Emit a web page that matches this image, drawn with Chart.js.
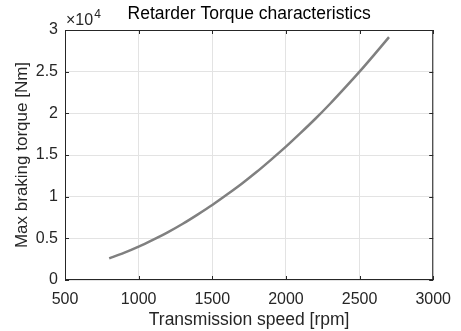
<!DOCTYPE html>
<html>
<head>
<meta charset="utf-8">
<script src="https://cdn.jsdelivr.net/npm/chart.js@4/dist/chart.umd.min.js"></script>
<style>
html,body{margin:0;padding:0;background:#fff;}
#wrap{width:461px;height:331px;}
</style>
</head>
<body>
<div id="wrap"><canvas id="c" width="461" height="331"></canvas></div>
<script>
// transmission speed [rpm]
var speed = [800, 900, 1000, 1100, 1200, 1300, 1400, 1500, 1600, 1700, 1800, 1900, 2000, 2100, 2200, 2300, 2400, 2500, 2600, 2700];
// max braking torque [Nm]
var torque = [2600, 3250, 4000, 4850, 5750, 6750, 7850, 9000, 10250, 11550, 12950, 14450, 16000, 17650, 19350, 21150, 23050, 25000, 27050, 29150];
var xTicks = [500, 1000, 1500, 2000, 2500, 3000];
var yTicks = [0, 5000, 10000, 15000, 20000, 25000, 30000];

var pts = speed.map(function(s, i){ return {x: s, y: torque[i]}; });
var fontFam = "'Liberation Sans', Arial, sans-serif";
var axisCol = '#262626';

// matlab style box, inward ticks and the x10^4 exponent
var boxPlugin = {
    id: 'box',
    afterDraw: function(chart){
        var ctx = chart.ctx, a = chart.chartArea;
        var xs = chart.scales.x, ys = chart.scales.y;
        ctx.save();
        ctx.strokeStyle = axisCol;
        ctx.lineWidth = 1;
        ctx.strokeRect(a.left + 0.5, a.top + 0.5, a.right - a.left - 1, a.bottom - a.top - 1);
        ctx.beginPath();
        xTicks.forEach(function(v){
            var px = Math.round(xs.getPixelForValue(v)) + 0.5;
            ctx.moveTo(px, a.bottom); ctx.lineTo(px, a.bottom - 4);
            ctx.moveTo(px, a.top); ctx.lineTo(px, a.top + 4);
        });
        yTicks.forEach(function(v){
            var py = Math.round(ys.getPixelForValue(v)) + 0.5;
            ctx.moveTo(a.left, py); ctx.lineTo(a.left + 4, py);
            ctx.moveTo(a.right, py); ctx.lineTo(a.right - 4, py);
        });
        ctx.stroke();
        ctx.fillStyle = axisCol;
        ctx.textBaseline = 'alphabetic';
        ctx.textAlign = 'left';
        ctx.font = '16px ' + fontFam;
        ctx.fillText('\u00d710', a.left + 1, a.top - 5);
        var w = ctx.measureText('\u00d710').width;
        ctx.font = '12px ' + fontFam;
        ctx.fillText('4', a.left + 1 + w + 1, a.top - 12);
        ctx.restore();
    }
};

new Chart(document.getElementById('c').getContext('2d'), {
    type: 'line',
    data: {
        datasets: [{
            data: pts,
            borderColor: '#808080',
            borderWidth: 2.5,
            pointRadius: 0,
            fill: false,
            tension: 0.3
        }]
    },
    options: {
        responsive: false,
        animation: false,
        layout: {padding: {top: 0, right: 23, left: 0, bottom: 0}},
        plugins: {
            legend: {display: false},
            tooltip: {enabled: false},
            title: {
                display: true,
                fullSize: false,
                text: 'Retarder Torque characteristics',
                color: '#000',
                font: {family: fontFam, size: 17.5, weight: 'normal'},
                padding: {top: 4, bottom: 5}
            }
        },
        scales: {
            x: {
                type: 'linear',
                min: 500, max: 3000,
                afterBuildTicks: function(s){ s.ticks = xTicks.map(function(v){ return {value: v}; }); },
                afterFit: function(s){ s.height = 51; },
                grid: {color: '#e3e3e3', drawTicks: false},
                border: {display: false},
                ticks: {color: axisCol, padding: 10, maxRotation: 0, font: {family: fontFam, size: 16},
                    callback: function(v){ return String(v); }},
                title: {display: true, text: 'Transmission speed [rpm]', color: axisCol, padding: {top: 1, bottom: 0}, font: {family: fontFam, size: 17.5}}
            },
            y: {
                type: 'linear',
                min: 0, max: 30000,
                afterBuildTicks: function(s){ s.ticks = yTicks.map(function(v){ return {value: v}; }); },
                afterFit: function(s){ s.width = 65; },
                grid: {color: '#e3e3e3', drawTicks: false},
                border: {display: false},
                ticks: {color: axisCol, padding: 7, font: {family: fontFam, size: 16},
                    callback: function(v){ return String(v / 10000); }},
                title: {display: true, text: 'Max braking torque [Nm]', color: axisCol, padding: {top: 12, bottom: 4}, font: {family: fontFam, size: 17}}
            }
        }
    },
    plugins: [boxPlugin]
});
</script>
</body>
</html>
